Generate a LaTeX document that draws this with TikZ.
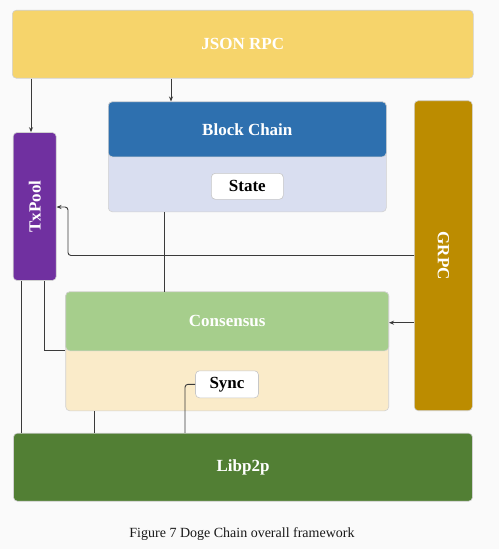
\documentclass[tikz,border=0pt]{standalone}
\usepackage{fontspec}
\setmainfont{Liberation Serif}
\usetikzlibrary{arrows.meta}
\definecolor{jsonc}{HTML}{F6D46B}
\definecolor{bchead}{HTML}{2E70AF}
\definecolor{bcbody}{HTML}{D9DEF0}
\definecolor{txc}{HTML}{7030A0}
\definecolor{grpcc}{HTML}{BC8C00}
\definecolor{conshead}{HTML}{A6CE8C}
\definecolor{consbody}{HTML}{FAEBC9}
\definecolor{libc}{HTML}{527F34}
\definecolor{linec}{HTML}{3A3A3A}
\definecolor{bgc}{HTML}{FAFAFA}
\begin{document}
\begin{tikzpicture}[x=1pt,y=-1pt,
  box/.style={draw=black!18, line width=0.6pt, rounded corners=4pt, inner sep=0pt, text=white, font=\bfseries\fontsize{17}{20}\selectfont},
  lbl/.style={draw=black!22, line width=0.6pt, fill=white, rounded corners=4pt, inner sep=0pt, text=black, font=\bfseries\fontsize{17}{20}\selectfont},
  vtext/.style={text=white, font=\bfseries\fontsize{17}{20}\selectfont, inner sep=0pt},
  conn/.style={draw=linec, line width=0.9pt},
  arr/.style={conn, -{Stealth[length=5pt,width=4pt]}}]
\useasboundingbox (0,0) rectangle (499,549);
\fill[bgc] (0,0) rectangle (499,549);
% boxes
\node[box, fill=jsonc, minimum width=461pt, minimum height=68pt] (json) at (242.8,44.2) {JSON RPC};
\node[box, fill=bcbody, minimum width=278pt, minimum height=110pt] (bc) at (247.3,156.8) {};
\node[box, fill=bchead, minimum width=278pt, minimum height=55pt, anchor=north] (bchead) at (bc.north) {Block Chain};
\node[lbl, minimum width=72pt, minimum height=26pt] (state) at (247.3,186.3) {State};
\node[box, fill=txc, minimum width=43pt, minimum height=148pt] (txpool) at (34.7,206.5) {};
\node[vtext, rotate=90] (txpooltext) at (txpool) {TxPool};
\node[box, fill=grpcc, minimum width=58pt, minimum height=310pt] (grpc) at (443.3,255.7) {};
\node[vtext, rotate=-90] (grpctext) at (grpc) {GRPC};
\node[box, fill=consbody, minimum width=323pt, minimum height=119pt] (cons) at (227.2,351.3) {};
\node[box, fill=conshead, minimum width=323pt, minimum height=59pt, anchor=north] (conshead) at (cons.north) {Consensus};
\node[lbl, minimum width=63pt, minimum height=27pt] (sync) at (227,384.3) {Sync};
\node[box, fill=libc, minimum width=459pt, minimum height=68pt] (libp) at (243,467.2) {Libp2p};
\node[font=\fontsize{14}{16}\selectfont, text=black!90] (caption) at (242,534) {Figure 7 Doge Chain overall framework};
% connectors
\draw[arr] (31,0 |- json.south) -- (31,0 |- txpool.north);
\draw[arr] (171,0 |- json.south) -- (171,0 |- bc.north);
\draw[arr, rounded corners=3pt] (grpc.west |- 0,255.5) -- (68,255.5) -- (68,207) -- (txpool.east |- 0,207);
\draw[conn] (164,0 |- bc.south) -- (164,0 |- cons.north);
\draw[arr] (grpc.west |- 0,322.7) -- (cons.east |- 0,322.7);
\draw[conn] (21,0 |- txpool.south) -- (21,0 |- libp.north);
\draw[conn] (44,0 |- txpool.south) -- (44,350.3) -- (cons.west |- 0,350.3);
\draw[conn] (94,0 |- cons.south) -- (94,0 |- libp.north);
\draw[conn, rounded corners=3pt] (sync.west) -- (185,0 |- sync.west) -- (185,0 |- libp.north);
\end{tikzpicture}
\end{document}
